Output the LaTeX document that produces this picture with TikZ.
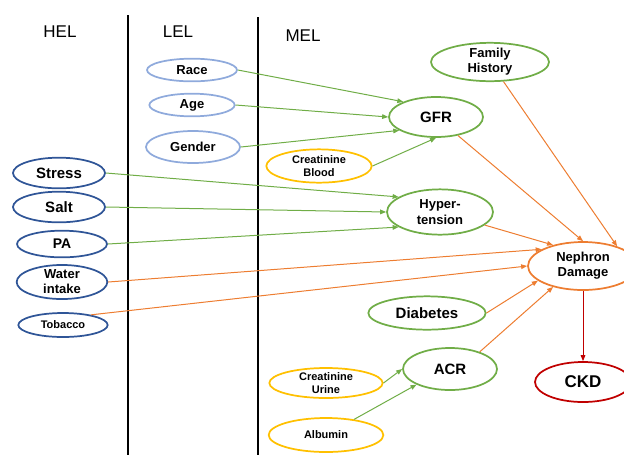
\documentclass[tikz,border=0pt]{standalone}
\usepackage{fontspec}
\setmainfont{Liberation Sans}
\usepackage{tikz}
\usetikzlibrary{shapes.geometric,arrows.meta}

\definecolor{lelblue}{RGB}{143,170,220}
\definecolor{helblue}{RGB}{47,85,151}
\definecolor{melgreen}{RGB}{112,173,71}
\definecolor{labyellow}{RGB}{255,192,0}
\definecolor{dmgorange}{RGB}{237,125,49}
\definecolor{ckdred}{RGB}{192,0,0}

\newcommand{\txtbig}{\fontsize{11.25}{13.5}\selectfont\bfseries}
\newcommand{\txtmid}{\fontsize{9.75}{11.25}\selectfont\bfseries}
\newcommand{\txtsmall}{\fontsize{8.25}{9.75}\selectfont\bfseries}

\begin{document}
\begin{tikzpicture}[x=0.75pt, y=-0.75pt,
	blob/.style={ellipse, draw, line width=1.3pt, inner sep=0pt, align=center},
	lel/.style={blob, draw=lelblue},
	hel/.style={blob, draw=helblue},
	mel/.style={blob, draw=melgreen},
	lab/.style={blob, draw=labyellow},
	dmg/.style={blob, draw=dmgorange},
	ckdnode/.style={blob, draw=ckdred},
	arr/.style={-{Triangle[length=4.5pt,width=3.5pt]}, line width=0.75pt},
	header/.style={font=\fontsize{12.75}{15}\selectfont}]
		\useasboundingbox (0,0) rectangle (624,455);
		% Columns
		\draw[line width=1.2pt] (128,15) -- (128,455);
		\draw[line width=1.2pt] (258,17) -- (258,455);
		\node[header] (helhead) at (60,32) {HEL};
		\node[header] (lelhead) at (178,32) {LEL};
		\node[header] (melhead) at (303,36) {MEL};

		% LEL
		\node[lel, font=\txtmid, minimum width=67.5pt, minimum height=17pt] (race) at (192,70) {Race};
		\node[lel, font=\txtmid, minimum width=64pt, minimum height=17pt] (age) at (192,105) {Age};
		\node[lel, font=\txtmid, minimum width=70.5pt, minimum height=24pt] (gender) at (193,147) {Gender};

		% HEL
		\node[hel, font=\txtbig, minimum width=69pt, minimum height=23pt] (stress) at (59,173) {Stress};
		\node[hel, font=\txtbig, minimum width=69pt, minimum height=23pt] (salt) at (59,207) {Salt};
		\node[hel, font=\fontsize{10.5}{12}\selectfont\bfseries, minimum width=67.5pt, minimum height=20pt] (pa) at (62,244) {PA};
		\node[hel, font=\txtmid, minimum width=68pt, minimum height=25pt] (water) at (62,282) {Water\\intake};
		\node[hel, font=\txtsmall, minimum width=67pt, minimum height=18pt] (tobacco) at (63,325) {Tobacco};

		% MEL
		\node[mel, font=\txtmid, minimum width=88.5pt, minimum height=27pt] (family) at (490,62) {Family\\History};
		\node[mel, font=\txtbig, minimum width=70.5pt, minimum height=30pt] (gfr) at (436,117) {GFR};
		\node[lab, font=\txtsmall, minimum width=79pt, minimum height=25pt] (cblood) at (319,166) {Creatinine\\Blood};
		\node[mel, font=\txtmid, minimum width=79.5pt, minimum height=34pt] (hyper) at (440,212) {Hyper-\\[0.75pt]tension};
		\node[dmg, font=\txtmid, minimum width=82.5pt, minimum height=36pt] (neph) at (583,266) {Nephron\\Damage};
		\node[mel, font=\txtbig, minimum width=88pt, minimum height=25pt] (diab) at (427,313) {Diabetes};
		\node[mel, font=\txtbig, minimum width=70.5pt, minimum height=31.5pt] (acr) at (450,369) {ACR};
		\node[ckdnode, font=\fontsize{12.75}{15}\selectfont\bfseries, minimum width=72pt, minimum height=30pt] (ckd) at (583,382) {CKD};
		\node[lab, font=\txtsmall, minimum width=85pt, minimum height=22.5pt] (curine) at (326,383) {Creatinine\\Urine};
		\node[lab, font=\txtsmall, minimum width=86pt, minimum height=25.5pt] (albumin) at (326,435) {Albumin};

		% into GFR
		\draw[arr, melgreen] (race.east) -- (gfr.155);
		\draw[arr, melgreen] (age.east) -- (gfr.west);
		\draw[arr, melgreen] (gender.east) -- (gfr.200);
		\draw[arr, melgreen] (cblood.east) -- (gfr.south);
		% into Hypertension
		\draw[arr, melgreen] (stress.east) -- (hyper.160);
		\draw[arr, melgreen] (salt.east) -- (hyper.west);
		\draw[arr, melgreen] (pa.east) -- (hyper.200);
		% into ACR
		\draw[arr, melgreen] (curine.east) -- (acr.west);
		\draw[arr, melgreen] (albumin) -- (acr.205);

		% into Nephron Damage
		\draw[arr, dmgorange] (family) -- (neph.30);
		\draw[arr, dmgorange] (gfr) -- (neph.north);
		\draw[arr, dmgorange] (hyper) -- (neph.145);
		\draw[arr, dmgorange] (water.east) -- (neph.158);
		\draw[arr, dmgorange] (tobacco.20) -- (neph.west);
		\draw[arr, dmgorange] (diab.east) -- (neph.198);
		\draw[arr, dmgorange] (acr.30) -- (neph.215);
		\draw[arr, ckdred] (neph.south) -- (ckd.north);
	\end{tikzpicture}
\end{document}
